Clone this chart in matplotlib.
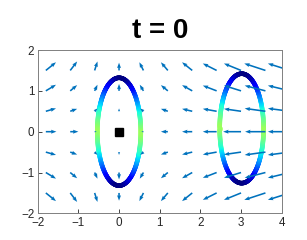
import numpy as np
import matplotlib
matplotlib.use('Agg')
import matplotlib.pyplot as plt
from matplotlib.collections import LineCollection

plt.rcParams['font.family'] = ['Liberation Sans', 'DejaVu Sans']

# 网格 (箭头起点)
xs = [-1.8, -1.2, -0.6, 0.0, 0.6, 1.2, 1.8, 2.4, 3.0, 3.6, 4.2]
ys = [-1.5, -1.0, -0.5, 0.0, 0.5, 1.0, 1.5]

# 箭头分量, 按行 (y 从下到上), 单位为坐标长度
U = [
    [0.25, 0.17, 0.07, 0.0, -0.10, -0.17, -0.25, -0.34, -0.42, -0.52, -0.54],
    [0.25, 0.17, 0.07, 0.0, -0.09, -0.17, -0.25, -0.34, -0.42, -0.51, -0.54],
    [0.25, 0.17, 0.07, 0.0, -0.08, -0.17, -0.25, -0.34, -0.42, -0.51, -0.54],
    [0.26, 0.20, 0.05, 0.0, -0.05, -0.17, -0.25, -0.34, -0.44, -0.50, -0.54],
    [0.25, 0.17, 0.07, 0.0, -0.08, -0.17, -0.25, -0.34, -0.42, -0.51, -0.54],
    [0.25, 0.17, 0.07, 0.0, -0.09, -0.17, -0.25, -0.34, -0.42, -0.51, -0.54],
    [0.25, 0.17, 0.07, 0.0, -0.10, -0.17, -0.25, -0.34, -0.42, -0.52, -0.54],
]
V = [
    [-0.20, -0.22, -0.22, -0.19, -0.20, -0.20, -0.20, -0.17, -0.17, -0.17, -0.17],
    [-0.15, -0.14, -0.15, -0.17, -0.15, -0.14, -0.14, -0.13, -0.13, -0.13, -0.13],
    [-0.07, -0.06, -0.07, -0.07, -0.07, -0.06, -0.06, -0.06, -0.06, -0.07, -0.07],
    [0.0, 0.0, 0.0, 0.0, 0.0, 0.0, 0.0, 0.0, 0.0, 0.0, 0.0],
    [0.07, 0.06, 0.07, 0.07, 0.07, 0.06, 0.06, 0.06, 0.06, 0.07, 0.07],
    [0.15, 0.14, 0.15, 0.17, 0.15, 0.14, 0.14, 0.13, 0.13, 0.13, 0.13],
    [0.20, 0.22, 0.22, 0.19, 0.20, 0.20, 0.20, 0.17, 0.17, 0.17, 0.17],
]

# 两个椭圆: 中心, 半轴
ell_cx = [0.0, 3.015]
ell_cy = [0.0, 0.08]
ell_a = [0.535, 0.54]
ell_b = [1.32, 1.34]
c_max = 0.54  # 侧边颜色 (jet)

point_x, point_y = [0.0], [0.0]
title = 't = 0'

fig = plt.figure(figsize=(3.07, 2.40), dpi=100)
ax = fig.add_axes([0.1228, 0.111, 0.7948, 0.6806])

X, Y = np.meshgrid(xs, ys)
th = np.linspace(0, 2 * np.pi, 400)
for cx, cy, a, b in zip(ell_cx, ell_cy, ell_a, ell_b):
    ex = cx + a * np.cos(th)
    ey = cy + b * np.sin(th)
    pts = np.array([ex, ey]).T.reshape(-1, 1, 2)
    segs = np.concatenate([pts[:-1], pts[1:]], axis=1)
    tm = 0.5 * (th[:-1] + th[1:])
    c = c_max * (1 - np.abs(np.sin(tm)) ** 1.3)
    lc = LineCollection(segs, cmap='jet', norm=plt.Normalize(0, 1),
                        linewidths=3.3, capstyle='round', zorder=2)
    lc.set_array(c)
    ax.add_collection(lc)

ax.quiver(X, Y, np.array(U), np.array(V), angles='xy', scale_units='xy',
          scale=1, color=(0, 0.447, 0.741), width=0.0065, headwidth=2.5,
          headlength=3.4, headaxislength=3.1, zorder=3)

ax.plot(point_x, point_y, 's', color='k', markersize=5.2, zorder=4)

ax.set_xlim(-2, 4)
ax.set_ylim(-2, 2)
ax.set_xticks(range(-2, 5))
ax.set_yticks(range(-2, 3))
ax.tick_params(direction='in', length=3, width=0.6, labelsize=8.4,
               colors='#262626', pad=2.5)
for s in ax.spines.values():
    s.set_color('#808080')
    s.set_linewidth(0.7)
ax.set_title(title, fontsize=20, fontweight='bold', pad=9.0)

fig.savefig('out.png', dpi=100)
